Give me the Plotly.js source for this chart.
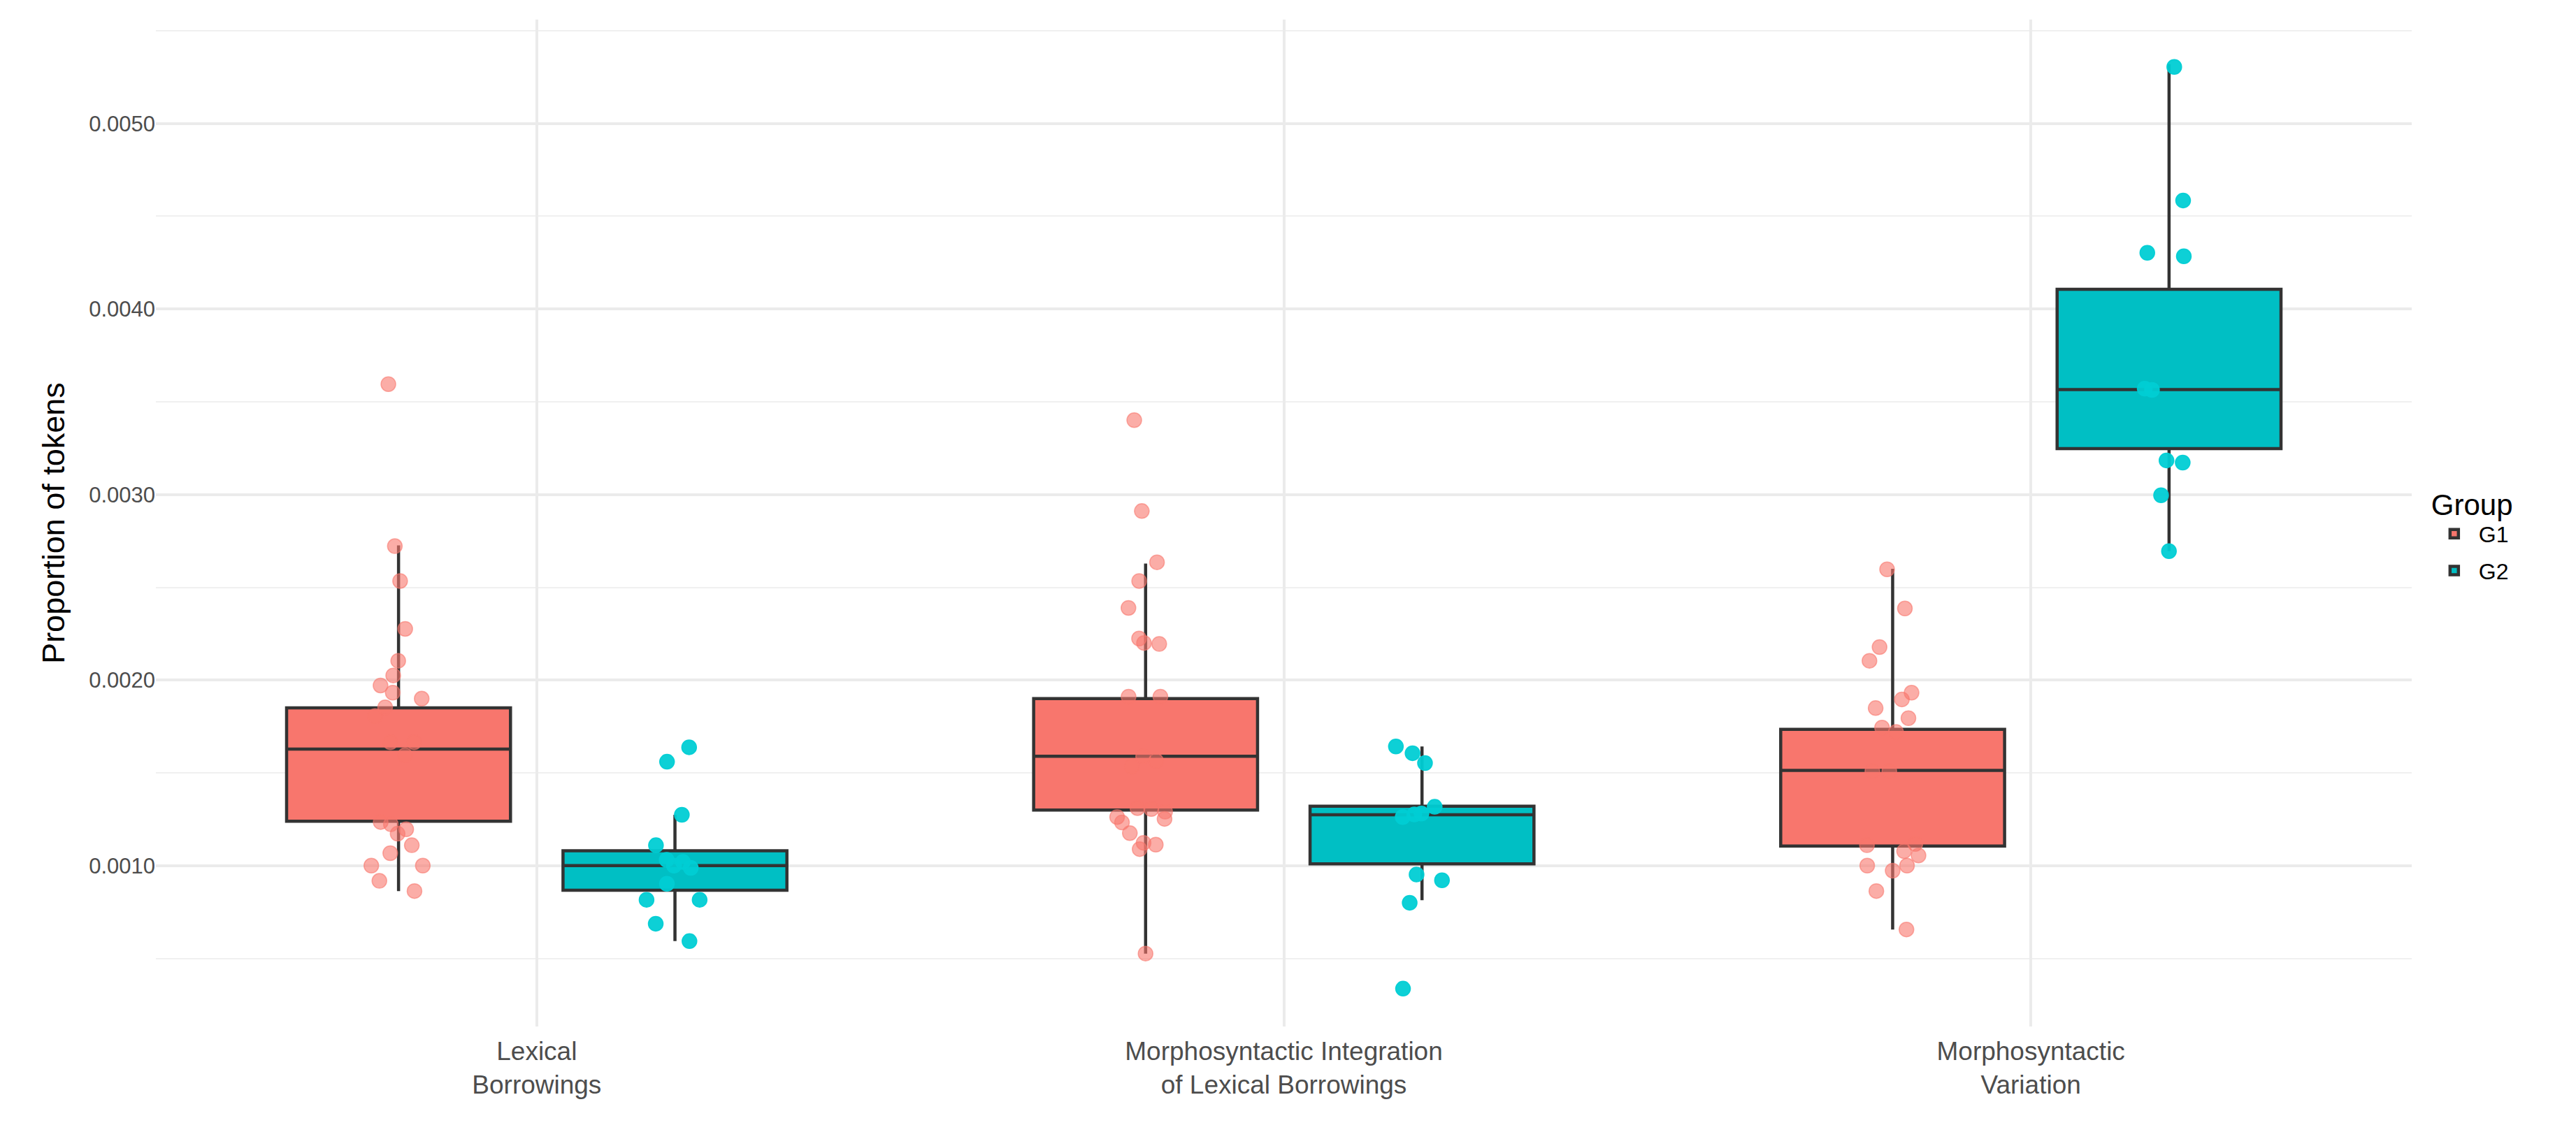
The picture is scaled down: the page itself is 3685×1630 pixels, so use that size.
<!DOCTYPE html>
<html>
<head>
<meta charset="utf-8">
<script src="https://cdn.plot.ly/plotly-3.0.1.min.js"></script>
<style>html,body{margin:0;padding:0;background:#fff}#chart{width:3685px;height:1630px}</style>
</head>
<body>
<div id="chart"></div>
<script>
// categories and per-group box statistics
const categories=["Lexical<br>Borrowings","Morphosyntactic Integration<br>of Lexical Borrowings","Morphosyntactic<br>Variation"];
const g1Q1=[0.001239,0.001300,0.001106], g1Med=[0.001628,0.001590,0.001513], g1Q3=[0.001850,0.001900,0.001735];
const g1Lo=[0.000863,0.000526,0.000656], g1Hi=[0.002726,0.002628,0.002600];
const g2Q1=[0.000867,0.001010,0.003248], g2Med=[0.001000,0.001274,0.003566], g2Q3=[0.001080,0.001320,0.004106];
const g2Lo=[0.000593,0.000814,0.002695], g2Hi=[0.001274,0.001642,0.005320];

// individual observations per category
const g1Lex=[0.003595,0.002722,0.002534,0.002276,0.002104,0.002025,0.001971,0.001932,0.001900,0.001853,0.001806,0.001665,0.001595,0.001665,0.001223,0.001235,0.001196,0.001172,0.001110,0.001067,0.001000,0.001000,0.000918,0.000863];
const g1Int=[0.003401,0.002911,0.002635,0.002534,0.002389,0.002224,0.002195,0.002200,0.001911,0.001911,0.001589,0.001565,0.001534,0.001310,0.001291,0.001305,0.001252,0.001262,0.001233,0.001175,0.001123,0.001113,0.001089,0.000526];
const g1Var=[0.002597,0.002386,0.002178,0.002104,0.001932,0.001896,0.001849,0.001795,0.001744,0.001720,0.001509,0.001509,0.001117,0.001110,0.001078,0.001055,0.001000,0.000973,0.001000,0.000863,0.000656];
const g2Lex=[0.001560,0.001638,0.001274,0.001110,0.001031,0.001020,0.000988,0.000902,0.000816,0.000816,0.000687,0.000593,0.001000];
const g2Int=[0.001642,0.001606,0.001553,0.001317,0.001262,0.001276,0.001281,0.000952,0.000921,0.000800,0.000337];
const g2Var=[0.005305,0.004585,0.004284,0.004303,0.003571,0.003564,0.003172,0.003184,0.002996,0.002695];

const C1="#F8766D", C2="#00BFC4";
const catX=(vals,i)=>vals.map(()=>categories[i]);

function statsBox(name,color,q1,med,q3,lo,hi){
  return {type:"box",name:name,x:categories,q1:q1,median:med,q3:q3,lowerfence:lo,upperfence:hi,
    offsetgroup:name,fillcolor:color,line:{color:"#333333",width:4.5},whiskerwidth:0,
    boxpoints:false,hoverinfo:"y",legendgroup:name};
}
function pointsBox(name,color,sets){
  const x=[],y=[];
  sets.forEach((s,i)=>{x.push(...catX(s,i));y.push(...s);});
  return {type:"box",name:name,x:x,y:y,offsetgroup:name,boxpoints:"all",jitter:0.3,pointpos:0,
    fillcolor:"rgba(0,0,0,0)",line:{color:"rgba(0,0,0,0)",width:0},
    marker:{color:color,size:21,line:{width:1.5,color:color}},showlegend:false,hoveron:"points",legendgroup:name};
}

const traces=[
  statsBox("G1",C1,g1Q1,g1Med,g1Q3,g1Lo,g1Hi),
  statsBox("G2",C2,g2Q1,g2Med,g2Q3,g2Lo,g2Hi),
  pointsBox("G1","rgba(248,118,109,0.6)",[g1Lex,g1Int,g1Var]),
  pointsBox("G2","rgba(0,205,212,0.95)",[g2Lex,g2Int,g2Var])
];

const layout={
  width:3685,height:1630,paper_bgcolor:"#fff",plot_bgcolor:"#fff",
  font:{family:"Liberation Sans, Arial, sans-serif",color:"#4d4d4d",size:30},
  margin:{l:223,r:235,t:28,b:161},
  boxmode:"group",boxgap:0.26,boxgroupgap:0.19,
  xaxis:{type:"category",showgrid:true,gridcolor:"#ebebeb",gridwidth:4,zeroline:false,showline:false,
    ticks:"",tickfont:{size:37,color:"#4d4d4d"},ticklabelstandoff:10},
  yaxis:{range:[0.000133,0.00556],tick0:0,dtick:0.001,tickformat:".4f",showgrid:true,gridcolor:"#ebebeb",gridwidth:4,
    minor:{dtick:0.0005,showgrid:true,gridcolor:"#f0f0f0",gridwidth:2},
    zeroline:false,showline:false,ticks:"",tickfont:{size:31,color:"#4d4d4d"},
    title:{text:"Proportion of tokens",font:{size:45,color:"#000"},standoff:20}},
  legend:{x:1.008,y:0.49,xanchor:"left",yanchor:"middle",title:{text:"Group",font:{size:42,color:"#000"}},
    font:{size:32,color:"#000"},tracegroupgap:8,itemwidth:60},
  showlegend:true
};
Plotly.newPlot("chart",traces,layout,{displayModeBar:false,responsive:false});
</script>
</body>
</html>
